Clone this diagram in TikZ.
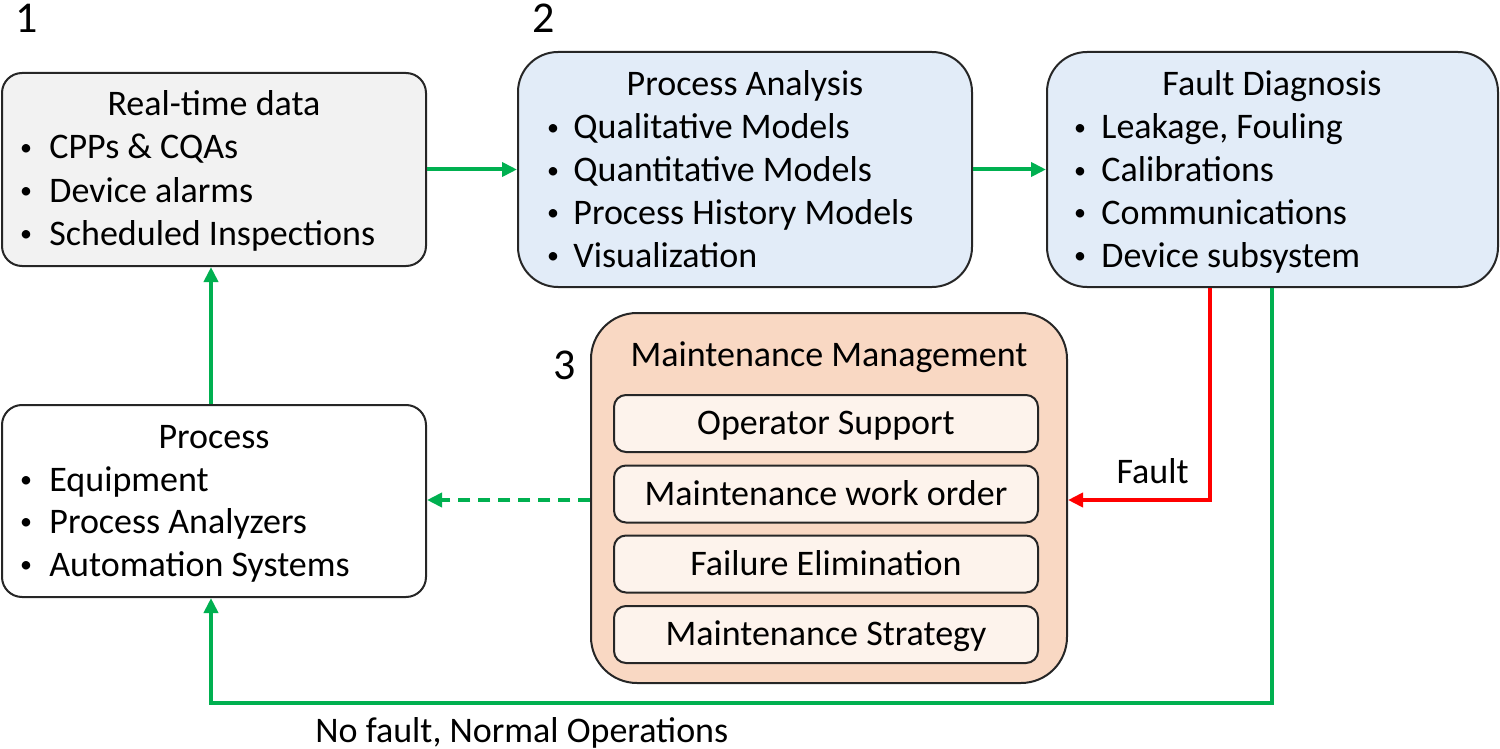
\documentclass[tikz,border=0pt]{standalone}
\usepackage{fontspec}
\setmainfont{Carlito}
\usetikzlibrary{arrows.meta,fit}
\definecolor{gr}{HTML}{00B050}
\definecolor{rd}{HTML}{FF0000}
\definecolor{greyfill}{HTML}{F2F2F2}
\definecolor{bluefill}{HTML}{E2ECF8}
\definecolor{peach}{HTML}{F9D8C3}
\definecolor{peachlight}{HTML}{FDF3EC}
\definecolor{edge}{HTML}{262626}
\newcommand\blt[5]{%
  \node[anchor=base] (#1b) at (#2,#4) {\raisebox{1.6pt}{\fontsize{12}{12}\selectfont\textbullet}};
  \node[anchor=base west] (#1) at (#3,#4) {#5};}
\begin{document}
\begin{tikzpicture}[x=0.5pt,y=-0.5pt,
  font=\fontsize{18}{21}\selectfont, inner sep=0pt,
  box/.style={draw=edge, line width=1pt, inner sep=0pt},
  inbox/.style={draw=edge, line width=1pt, fill=peachlight, rounded corners=6pt,
    minimum width=212pt, minimum height=28.5pt, text height=13pt, text depth=2pt, inner sep=0pt},
  arr/.style={line width=2pt, -{Triangle[length=7.5pt,width=7pt]}},
  numlbl/.style={font=\fontsize{22}{26}\selectfont}]
\useasboundingbox (0,0) rectangle (1500,749);

% boxes
\node[box, fill=greyfill, rounded corners=10pt, fit={(2,73) (426,266)}] (rt) {};
\node[box, fill=bluefill, rounded corners=20pt, fit={(518,52) (972,287)}] (pa) {};
\node[box, fill=bluefill, rounded corners=20pt, fit={(1047,52) (1498,287)}] (fd) {};
\node[box, fill=white, rounded corners=10pt, fit={(2,405) (426,597)}] (pr) {};
\node[box, fill=peach, rounded corners=23pt, fit={(591,313) (1067,683)}] (mm) {};

% inner boxes
\node[inbox] (os) at (826,423.5) {Operator Support};
\node[inbox] (mwo) at (826,494) {Maintenance work order};
\node[inbox] (fe) at (826,564) {Failure Elimination};
\node[inbox] (ms) at (826,634.5) {Maintenance Strategy};

% titles
\node[anchor=base] (rtt) at (214,116) {Real-time data};
\node[anchor=base] (pat) at (745,96) {Process Analysis};
\node[anchor=base] (fdt) at (1272,96) {Fault Diagnosis};
\node[anchor=base] (prt) at (214,448) {Process};
\node[anchor=base] (mmt) at (829,366) {Maintenance Management};

% bullets
\blt{rt1}{26}{49}{159}{CPPs \& CQAs}
\blt{rt2}{26}{49}{202}{Device alarms}
\blt{rt3}{26}{49}{245}{Scheduled Inspections}
\blt{pa1}{553}{573}{139}{Qualitative Models}
\blt{pa2}{553}{573}{182}{Quantitative Models}
\blt{pa3}{553}{573}{224}{Process History Models}
\blt{pa4}{553}{573}{267}{Visualization}
\blt{fd1}{1080}{1101}{139}{Leakage, Fouling}
\blt{fd2}{1080}{1101}{182}{Calibrations}
\blt{fd3}{1080}{1101}{224}{Communications}
\blt{fd4}{1080}{1101}{267}{Device subsystem}
\blt{pr1}{26}{49}{491}{Equipment}
\blt{pr2}{26}{49}{533}{Process Analyzers}
\blt{pr3}{26}{49}{576}{Automation Systems}

% numbers
\node[numlbl] (n1) at (27,18) {1};
\node[numlbl] (n2) at (544,18) {2};
\node[numlbl] (n3) at (565,365) {3};

% connectors
\draw[arr, gr] (rt.east) -- (pa.west);
\draw[arr, gr] (pa.east) -- (fd.west);
\draw[arr, gr] (pr.north -| 211,0) -- (rt.south -| 211,0);
\draw[arr, rd] (fd.south -| 1210,0) |- (mm.east |- 0,500);
\coordinate (corner) at (1272,703);
\draw[arr, gr] (fd.south -| 1272,0) -- (corner) -| (pr.south -| 211,0);
\draw[arr, gr, dash pattern=on 6pt off 4pt] (mm.west |- 0,500) -- (pr.east |- 0,500);

% labels
\node[anchor=base east] (faultlbl) at (1189,483) {Fault};
\node[anchor=base west] (nofault) at (315,742) {No fault, Normal Operations};
\end{tikzpicture}
\end{document}
